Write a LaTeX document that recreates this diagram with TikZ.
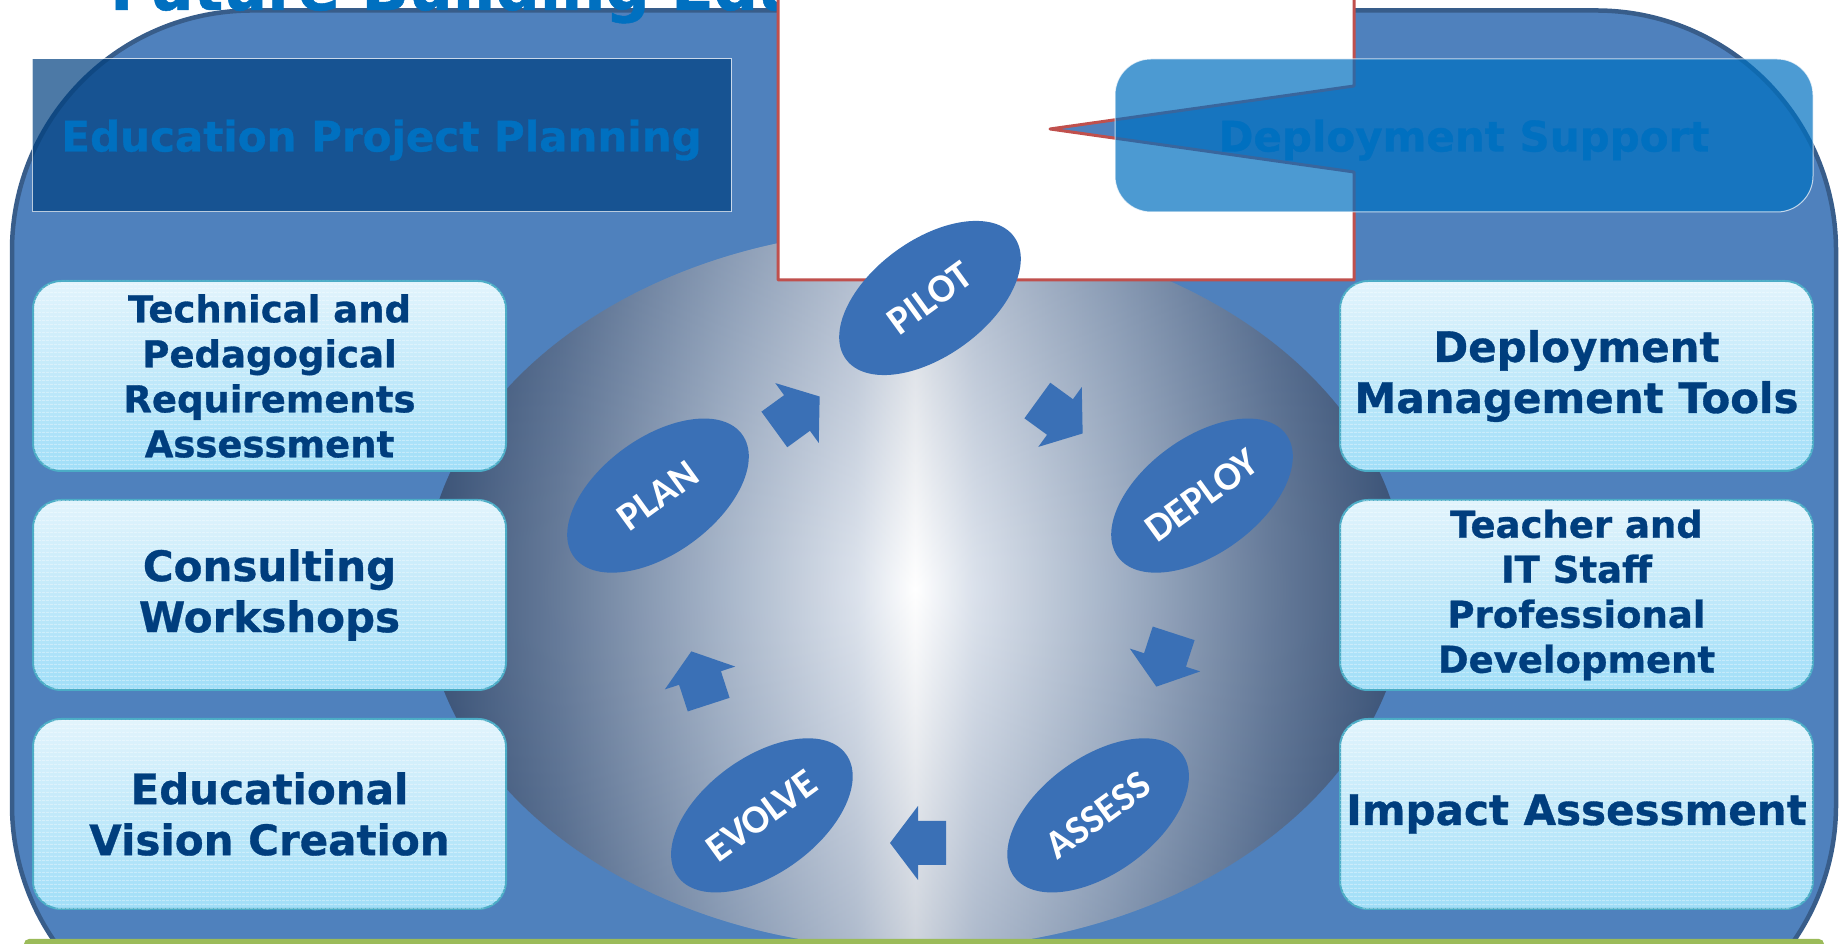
\documentclass[tikz,border=0pt]{standalone}
\usepackage{fontspec}
\usetikzlibrary{shapes.geometric,positioning,patterns.meta}
\newfontfamily\verdanafont{DejaVu Sans}[BoldFeatures={FakeBold=0.8}]
\newfontfamily\calibrifont{Carlito}
\definecolor{panelblue}{RGB}{79,129,189}
\definecolor{paneledge}{RGB}{56,93,138}
\definecolor{titleblue}{RGB}{0,112,192}
\definecolor{darkbar}{RGB}{0,64,128}
\definecolor{navytext}{RGB}{0,62,126}
\definecolor{boxedge}{RGB}{75,172,198}
\definecolor{boxtop}{RGB}{226,244,252}
\definecolor{boxbottom}{RGB}{160,222,248}
\definecolor{phaseblue}{RGB}{58,112,182}
\definecolor{calloutred}{RGB}{192,80,77}
\definecolor{leafgreen}{RGB}{155,187,89}
\definecolor{orbdark}{RGB}{58,82,118}
\definecolor{orbmid}{RGB}{100,122,154}
\definecolor{orblight}{RGB}{162,178,200}
\definecolor{orbpale}{RGB}{214,222,234}
\pgfdeclarehorizontalshading{orbshade}{100bp}{color(0bp)=(orbdark); color(25bp)=(orbdark); color(32bp)=(orbmid); color(40bp)=(orblight); color(47bp)=(orbpale); color(50bp)=(white); color(53bp)=(orbpale); color(60bp)=(orblight); color(68bp)=(orbmid); color(75bp)=(orbdark); color(100bp)=(orbdark)}
\newcommand{\titlefnt}{\verdanafont\bfseries\fontsize{62}{70}\selectfont}
\newcommand{\barfnt}{\verdanafont\bfseries\fontsize{42}{50}\selectfont}
\newcommand{\cardfnt}{\verdanafont\bfseries\fontsize{42}{51}\selectfont}
\newcommand{\cardsmallfnt}{\verdanafont\bfseries\fontsize{37}{45}\selectfont}
\newcommand{\phasefnt}{\calibrifont\bfseries\fontsize{40}{46}\selectfont}
\tikzset{%
	panel/.style      = {draw=paneledge, line width=4.5pt, fill=panelblue, rounded corners=240pt},
	heading/.style    = {inner sep=0pt, text=titleblue, font=\titlefnt},
	planbar/.style    = {draw=white, draw opacity=0.7, line width=1pt, fill=darkbar, fill opacity=0.7, text opacity=1,
	                     minimum width=699pt, minimum height=153pt, text height=36pt, text depth=4pt,
	                     text=titleblue, font=\barfnt},
	supportbar/.style = {planbar, fill=titleblue, rounded corners=36pt, minimum width=698pt},
	callout/.style    = {draw=calloutred, line width=3pt, line join=round, fill=white},
	card/.style       = {draw=boxedge, line width=2pt, rounded corners=28pt, top color=boxtop, bottom color=boxbottom,
	                     postaction={fill opacity=0.35, pattern={Lines[angle=0, distance=4pt, line width=1pt]}, pattern color=white},
	                     minimum width=473pt, minimum height=190pt, inner sep=0pt, align=center, text=navytext, font=\cardfnt},
	smallcard/.style  = {card, font=\cardsmallfnt},
	phase/.style      = {ellipse, fill=phaseblue, minimum width=208pt, minimum height=116pt, inner sep=0pt,
	                     text=white, font=\phasefnt, rotate=36},
	turnarrow/.pic    = {\fill[phaseblue] (-28,-22) -- (0,-22) -- (0,-37) -- (28,0) -- (0,37) -- (0,22) -- (-28,22) -- cycle;}
}

\begin{document}
\begin{tikzpicture}[x=1pt, y=1pt]
	\useasboundingbox (0,0) rectangle (1845,944);
	\clip (0,0) rectangle (1845,944);

	% Drawing the panel, the title and the orb
	\draw[panel] (12,-101) rectangle (1836,933.5);
	\node[heading, anchor=base west] (title) at (110,934) {Future Building Education};
	\shade[shading=orbshade] (915,355) ellipse [x radius=491pt, y radius=360pt];
	\shade[inner color=white, outer color=orbdark, fill opacity=0.25] (915,355) ellipse [x radius=491pt, y radius=360pt];

	% Drawing the planning bar
	\node[planbar] (planning) at (381.5,808.5) {Education Project Planning};

	% Drawing the cards
	\node[card] (consult) at (269.5,349) {Consulting\\Workshops};
	\node[smallcard, above=27pt of consult] (techreq) {Technical and\\Pedagogical\\Requirements\\Assessment};
	\node[card, below=27pt of consult] (vision) {Educational\\Vision Creation};
	\node[smallcard, right=832pt of consult] (staff) {Teacher and\\IT Staff\\Professional\\Development};
	\node[card, above=27pt of staff] (tools) {Deployment\\Management Tools};
	\node[card, below=27pt of staff] (impact) {Impact Assessment};

	% Drawing the callout and the support bar
	\draw[callout] (778,960) -- (1354,960) -- (1354,858) -- (1050,815) -- (1354,772) -- (1354,664) -- (778,664) -- cycle;
	\node[supportbar] (support) at (1464,808.5) {Deployment Support};

	% Drawing the cycle
	\coordinate (hub) at (930,360);
	\foreach \ang/\name/\lbl in {90/pilot/PILOT, 18/deploy/DEPLOY, -54/assess/ASSESS, -126/evolve/EVOLVE, 162/plan/PLAN}
		\node[phase] (\name) at ([shift={(\ang:286pt)}]hub) {\lbl};
	\pic[rotate=36] at (797,531) {turnarrow};
	\pic[rotate=-36] at (1060,527) {turnarrow};
	\pic[rotate=-108] at (1165,284) {turnarrow};
	\pic[rotate=180] at (918,101) {turnarrow};
	\pic[rotate=108] at (700,266) {turnarrow};

	% Drawing the green strip
	\fill[leafgreen, rounded corners=5pt] (24,-20) rectangle (1824,5);
\end{tikzpicture}
\end{document}
